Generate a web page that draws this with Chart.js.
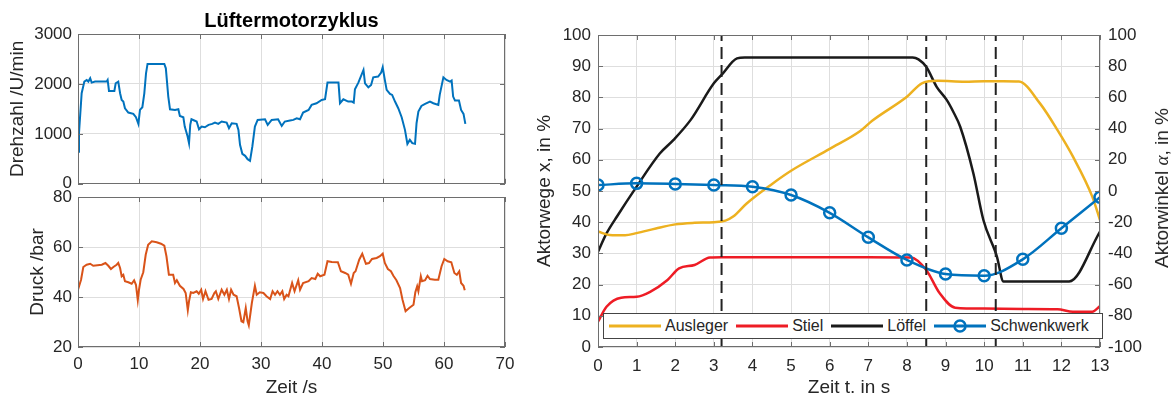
<!DOCTYPE html>
<html>
<head>
<meta charset="utf-8">
<script src="https://cdn.jsdelivr.net/npm/chart.js@4.4.1/dist/chart.umd.min.js"></script>
<style>
html,body{margin:0;padding:0;background:#fff;width:1173px;height:399px;overflow:hidden;position:relative;font-family:"Liberation Sans",Arial,sans-serif;color:#262626;}
canvas{position:absolute;}
#cA{left:0;top:0;}
#cB{left:0;top:180px;}
#cC{left:520px;top:0;}
#legend{position:absolute;left:603px;top:313px;width:493px;height:24px;background:#fff;border:1px solid #444;display:flex;align-items:center;padding-left:5px;box-sizing:content-box;font-size:16px;}
#legend .item{display:flex;align-items:center;margin-right:8px;}
#legend .item span{margin-left:4px;white-space:nowrap;}
#rtitle{position:absolute;left:1162px;top:188px;transform:translate(-50%,-50%) rotate(-90deg);white-space:nowrap;font-size:19px;}
#rtitle i{font-family:"Liberation Serif","DejaVu Serif",serif;}
</style>
</head>
<body>
<canvas id="cA" width="530" height="200"></canvas>
<canvas id="cB" width="530" height="219"></canvas>
<canvas id="cC" width="653" height="399"></canvas>
<div id="legend"></div>
<div id="rtitle">Aktorwinkel <i>α</i>, in %</div>
<script>
// ---------- Data: Lüftermotorzyklus ----------
const fanTime = [0,0.16,0.6,1.04,1.42,1.7,2.0,2.24,2.8,4.7,4.86,5.08,5.96,6.18,6.6,6.9,7.16,7.43,7.7,8.25,9.07,9.5,9.9,10.16,10.55,10.87,11.15,11.4,14.15,14.4,14.8,15.08,15.9,16.45,16.7,17.27,17.5,17.97,18.2,18.4,18.6,19.45,19.84,20.27,20.8,21.4,22.0,22.46,23.0,23.55,24.37,24.75,25.2,26.0,26.3,26.56,26.94,27.4,27.8,28.2,28.58,29.0,29.45,30.66,31.1,31.75,32.8,33.4,33.9,34.75,35.3,35.85,36.4,36.9,37.8,38.3,39.1,39.95,40.5,40.9,42.7,42.95,43.5,44.3,44.9,45.2,45.4,45.96,46.8,47.05,47.6,48.05,48.4,49.2,49.7,49.95,50.3,50.6,51.15,51.5,51.97,52.5,53.06,53.6,54.0,54.4,54.8,55.25,55.5,55.8,56.3,56.9,57.7,58.25,59.07,59.3,59.9,60.4,61.0,61.25,61.5,61.8,62.45,62.8,63.2,63.5];
const fanSpeed = [640,1013,1813,2047,2080,2047,2113,2027,2047,2047,2080,1860,1860,2013,2047,1813,1680,1647,1513,1427,1400,1333,1200,1480,1533,1813,2213,2400,2400,2313,1747,1493,1480,1493,1360,1333,1147,947,813,1180,1293,1247,1093,1147,1133,1180,1200,1227,1200,1247,1227,1113,1213,1200,1080,780,600,560,493,460,747,1147,1280,1293,1180,1280,1293,1160,1247,1267,1280,1313,1293,1427,1480,1580,1613,1680,1693,2027,2027,1613,1693,1647,1647,1627,1893,2027,2280,2013,1933,1980,2133,2147,2227,2333,2080,1880,1800,1780,1647,1513,1333,1080,800,880,813,800,1213,1447,1560,1600,1647,1613,1580,1780,2133,2080,2047,2067,1747,1667,1667,1480,1400,1200];

const pressTime = [0,0.5,0.87,1.42,2.0,2.5,3.9,4.5,4.97,5.4,5.8,6.34,6.6,6.9,7.16,7.43,7.7,8.25,8.8,9.2,9.5,9.8,10.0,10.27,10.7,11.1,11.5,12.1,12.9,13.6,14.15,14.5,14.9,15.6,15.9,16.2,16.7,17.3,17.65,18.0,18.2,18.5,18.9,19.45,19.8,20.2,20.5,20.9,21.4,21.9,22.35,22.6,23.0,23.55,24.0,24.4,24.75,25.1,25.5,26.0,26.4,26.8,27.1,27.5,27.8,28.0,28.5,29.0,29.3,29.8,30.4,30.9,31.5,31.9,32.3,32.7,33.1,33.5,33.8,34.2,34.5,35.1,35.5,36.1,36.4,36.9,37.8,38.3,38.9,39.3,39.7,40.4,40.9,41.6,42.6,43.1,43.8,44.3,44.75,45.2,45.5,46.1,46.6,47.2,47.7,48.2,48.96,49.5,49.95,50.3,50.8,51.3,51.7,52.2,52.8,53.2,53.7,54.3,55.0,55.3,55.6,55.8,56.2,56.4,56.9,57.3,57.7,58.5,59.07,59.6,60.05,60.6,61.2,61.7,62.1,62.5,62.8,63.2,63.4];
const pressure = [42.9,46.9,52,52.9,53.3,52.5,52.9,53.6,52.5,51.2,52,52.9,53.6,51.6,48.3,48.9,46.3,45.9,45.3,46.7,44.9,38.7,42.9,46.9,49.9,56.9,60.9,62.3,61.9,61.3,60.5,56.3,48.9,48.9,45.6,46.7,44.5,43.2,41.6,34.7,38.3,41.9,41.6,42.3,41.3,42.9,39.2,42.3,38.9,39.2,41.6,42.3,39.2,42.9,40.9,42.9,39.2,42.9,40.9,40.3,35.6,30.3,29.9,35.6,30.3,28.7,37.6,44.5,40.9,41.9,41.6,40.3,39.2,42.3,40.9,42.3,40.9,42.3,39.2,40.9,40.3,45.6,42.3,46.7,42.9,45.6,46.3,47.6,47.2,49.3,48.3,48.9,54.3,54,53.9,50.3,49.6,48.9,45.3,49.6,50.3,54.9,57.3,53.3,53.6,55.2,55.6,56.3,57.3,53.6,51.2,50.3,48.5,46.7,43.6,38.9,34.3,35.6,36.9,41.9,44.3,42.3,48.3,46.3,46.7,48.5,47.2,46.9,46.9,52.3,55.2,54.3,53.9,49.6,48.9,50.3,45.6,44.5,42.7];

// ---------- Data: Aktorwege ----------
const auslegerTime = [0,0.3,0.7,1.0,1.5,2.0,2.5,3.0,3.3,3.5,3.85,4.5,5.0,6.0,6.8,7.1,8.0,8.4,8.8,9.5,10.0,10.5,10.9,11.45,11.9,12.3,12.8,13.0];
const auslegerVal  = [37,35.9,35.8,36.5,38,39.3,39.8,40,40.5,41.8,46,52.2,56.5,63.5,69.3,72.5,80.2,84.6,85.3,85,85.2,85.2,85.1,78,69.5,61,48.2,40.7];
const stielTime = [0,0.22,0.6,1.0,1.35,1.8,2.1,2.5,2.9,3.2,5,7,8.1,8.5,8.85,9.25,10,11,11.9,12.3,12.8,13];
const stielVal  = [8.1,12.9,15.8,16.1,17.7,21.5,25.2,26.3,28.7,28.8,28.8,28.8,28.7,24.7,17.2,12.6,12.3,12.2,12.1,11.3,11.3,13.1];
const loeffelTime = [0,0.22,0.5,1.0,1.6,1.95,2.4,3.0,3.2,3.6,3.8,8.15,8.3,8.5,8.77,9.03,9.2,9.38,9.72,9.98,10.33,10.5,12.2,13.0];
const loeffelVal  = [30.5,36.4,42,51.4,62,66.3,72.8,84.5,87.2,92.5,92.8,92.8,92.2,89.8,83.4,79.2,75.4,70.6,55.7,40.7,29,21,21,37];
const schwenkTime = [0,1,2,3,4,5,6,7,8,9,10,11,12,13];
const schwenkVal  = [3.8,4.9,4.5,3.8,2.7,-2.6,-14,-29.7,-44.2,-53.2,-54.3,-43.8,-23.9,-4];
const phaseTimes = [3.2, 8.5, 10.3];

const seriesNames  = ['Ausleger','Stiel','Löffel','Schwenkwerk'];
const seriesColors = ['#EDB120','#EE1C25','#1A1A1A','#0072BD'];

const xyOf = (t, v) => t.map((x, i) => ({x, y: v[i]}));

Chart.defaults.font.family = '"Liberation Sans", Arial, sans-serif';
Chart.defaults.color = '#262626';
Chart.defaults.animation = false;

const GRID = '#dedede';
const FRAME = '#6e6e6e';
const plain = v => String(v);

const framePlugin = {
  id: 'frame',
  afterDatasetsDraw(chart, _a, opts) {
    const {ctx, chartArea: a} = chart;
    const L = 5;
    ctx.save();
    ctx.strokeStyle = FRAME;
    ctx.lineWidth = 1;
    ctx.beginPath();
    (opts.marks || []).forEach(m => {
      const s = chart.scales[m.scale];
      s.ticks.forEach(t => {
        const p = Math.round(s.getPixelForValue(t.value)) + 0.5;
        m.sides.forEach(side => {
          if (side === 'bottom') { ctx.moveTo(p, a.bottom); ctx.lineTo(p, a.bottom - L); }
          if (side === 'top') { ctx.moveTo(p, a.top); ctx.lineTo(p, a.top + L); }
          if (side === 'left') { ctx.moveTo(a.left, p); ctx.lineTo(a.left + L, p); }
          if (side === 'right') { ctx.moveTo(a.right, p); ctx.lineTo(a.right - L, p); }
        });
      });
    });
    ctx.stroke();
    ctx.strokeRect(Math.round(a.left) + 0.5, Math.round(a.top) + 0.5, Math.round(a.right - a.left) - 1, Math.round(a.bottom - a.top) - 1);
    ctx.restore();
  }
};

const tickFont = {size: 17};
const titleFont = {size: 19};

// ---------- Chart A: Drehzahl ----------
new Chart(document.getElementById('cA'), {
  type: 'line',
  data: {datasets: [{data: xyOf(fanTime, fanSpeed), borderColor: '#0072BD', borderWidth: 2, pointRadius: 0, tension: 0}]},
  options: {
    responsive: false,
    layout: {padding: {top: 0, right: 25, left: 0, bottom: 0}},
    plugins: {
      legend: {display: false}, tooltip: {enabled: false},
      title: {display: true, text: 'Lüftermotorzyklus', fullSize: false, font: {size: 20, weight: 'bold'}, color: '#000', padding: {top: 9, bottom: 1}},
      frame: {marks: [{scale: 'x', sides: ['bottom','top']}, {scale: 'y', sides: ['left','right']}]}
    },
    scales: {
      x: {type: 'linear', min: 0, max: 70, ticks: {display: false, stepSize: 10}, grid: {color: GRID, drawTicks: false}, border: {display: false},
          afterFit: s => { s.height = 16; }},
      y: {min: 0, max: 3000, ticks: {stepSize: 1000, font: tickFont, padding: 6, callback: plain}, grid: {color: GRID, drawTicks: false}, border: {display: false},
          title: {display: true, text: 'Drehzahl /U/min', font: titleFont, padding: {top: 6, bottom: 0}},
          afterFit: s => { s.width = 78; }}
    }
  },
  plugins: [framePlugin]
});

// ---------- Chart B: Druck ----------
new Chart(document.getElementById('cB'), {
  type: 'line',
  data: {datasets: [{data: xyOf(pressTime, pressure), borderColor: '#D95319', borderWidth: 2, pointRadius: 0, tension: 0}]},
  options: {
    responsive: false,
    layout: {padding: {top: 17, right: 25, left: 0, bottom: 0}},
    plugins: {
      legend: {display: false}, tooltip: {enabled: false},
      frame: {marks: [{scale: 'x', sides: ['bottom','top']}, {scale: 'y', sides: ['left','right']}]}
    },
    scales: {
      x: {type: 'linear', min: 0, max: 70, ticks: {stepSize: 10, font: tickFont, padding: 7, autoSkip: false, maxRotation: 0, callback: plain}, grid: {color: GRID, drawTicks: false}, border: {display: false},
          title: {display: true, text: 'Zeit /s', font: titleFont, padding: {top: 0, bottom: 0}},
          afterFit: s => { s.height = 52; }},
      y: {min: 20, max: 80, ticks: {stepSize: 20, font: tickFont, padding: 6, callback: plain}, grid: {color: GRID, drawTicks: false}, border: {display: false},
          title: {display: true, text: 'Druck /bar', font: titleFont, padding: {top: 26, bottom: 0}},
          afterFit: s => { s.width = 78; }}
    }
  },
  plugins: [framePlugin]
});

// ---------- Chart C: Aktorwege ----------
const lineSets = [
  {label: seriesNames[0], data: xyOf(auslegerTime, auslegerVal), borderColor: seriesColors[0], yAxisID: 'y'},
  {label: seriesNames[1], data: xyOf(stielTime, stielVal), borderColor: seriesColors[1], yAxisID: 'y'},
  {label: seriesNames[2], data: xyOf(loeffelTime, loeffelVal), borderColor: seriesColors[2], yAxisID: 'y'},
].map(d => Object.assign(d, {borderWidth: 2.5, pointRadius: 0, cubicInterpolationMode: 'monotone', order: 2}));

const schwenkSet = {label: seriesNames[3], data: xyOf(schwenkTime, schwenkVal), borderColor: seriesColors[3], yAxisID: 'y1',
  borderWidth: 2.5, pointRadius: 5.5, pointBorderWidth: 2.5, pointBackgroundColor: 'rgba(255,255,255,0)', pointBorderColor: seriesColors[3],
  cubicInterpolationMode: 'monotone', order: 1};

const phaseSets = phaseTimes.map(t => ({label: 'phase', data: [{x: t, y: 0}, {x: t, y: 100}], yAxisID: 'y',
  borderColor: '#222', borderWidth: 2, borderDash: [12, 6], pointRadius: 0, order: 0}));

new Chart(document.getElementById('cC'), {
  type: 'line',
  data: {datasets: [...lineSets, schwenkSet, ...phaseSets]},
  options: {
    responsive: false,
    layout: {padding: {top: 35, right: 0, left: 0, bottom: 0}},
    plugins: {
      legend: {display: false}, tooltip: {enabled: false},
      frame: {marks: [{scale: 'x', sides: ['bottom','top']}, {scale: 'y', sides: ['left']}, {scale: 'y1', sides: ['right']}]}
    },
    scales: {
      x: {type: 'linear', min: 0, max: 13, ticks: {stepSize: 1, font: tickFont, padding: 9, autoSkip: false, maxRotation: 0, callback: plain}, grid: {color: GRID, drawTicks: false}, border: {display: false},
          title: {display: true, text: 'Zeit t. in s', font: titleFont, padding: {top: 0, bottom: 0}},
          afterFit: s => { s.height = 52; }},
      y: {position: 'left', min: 0, max: 100, ticks: {stepSize: 10, font: tickFont, padding: 7, callback: plain}, grid: {color: GRID, drawTicks: false}, border: {display: false},
          title: {display: true, text: 'Aktorwege x, in %', font: titleFont, padding: {top: 13, bottom: 0}},
          afterFit: s => { s.width = 78; }},
      y1: {position: 'right', min: -100, max: 100, ticks: {stepSize: 20, font: tickFont, padding: 8, callback: plain}, grid: {display: false, drawTicks: false}, border: {display: false},
          afterFit: s => { s.width = 73; }}
    }
  },
  plugins: [framePlugin]
});

// ---------- HTML legend built from series arrays ----------
const legend = document.getElementById('legend');
seriesNames.forEach((name, i) => {
  const item = document.createElement('div');
  item.className = 'item';
  const marker = i === 3 ? `<circle cx="26" cy="7" r="5.5" fill="none" stroke="${seriesColors[i]}" stroke-width="2.5"/>` : '';
  item.innerHTML = `<svg width="52" height="14"><line x1="0" y1="7" x2="52" y2="7" stroke="${seriesColors[i]}" stroke-width="3"/>${marker}</svg><span>${name}</span>`;
  legend.appendChild(item);
});
</script>
</body>
</html>
